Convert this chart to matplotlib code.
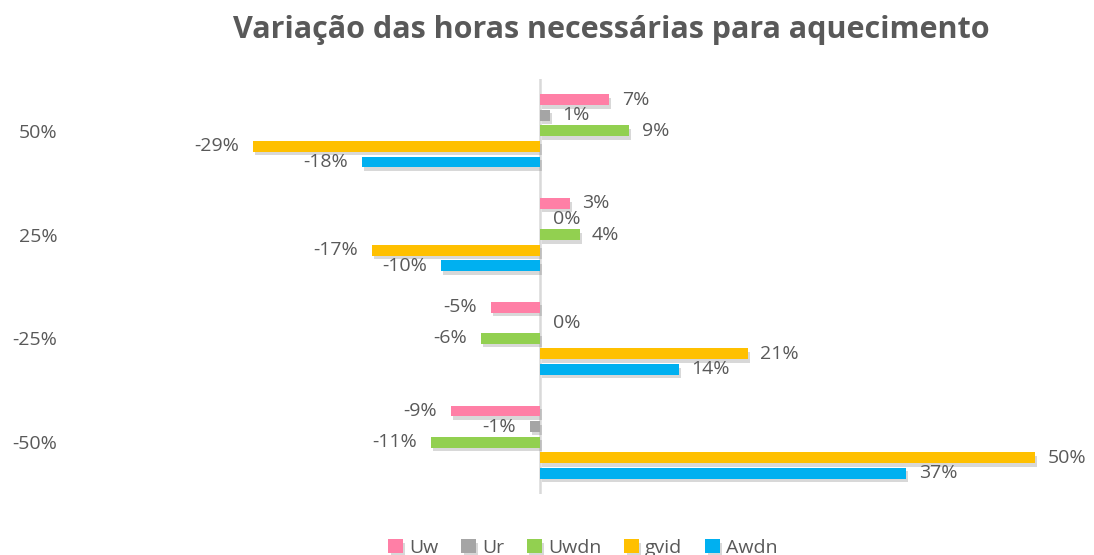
import matplotlib.pyplot as plt
import matplotlib.patheffects as pe
import numpy as np

plt.rcParams['font.family'] = ['Open Sans', 'DejaVu Sans']

categories = ['50%', '25%', '-25%', '-50%']
series = ['Uw', 'Ur', 'Uwdn', 'gvid', 'Awdn']
colors = ['#FF7FA6', '#A5A5A5', '#92D050', '#FFC000', '#00B0F0']

# variation per category, in percent (rows follow `series`)
uw = [7, 3, -5, -9]
ur = [1, 0, 0, -1]
uwdn = [9, 4, -6, -11]
gvid = [-29, -17, 21, 50]
awdn = [-18, -10, 14, 37]
values = [uw, ur, uwdn, gvid, awdn]

text_color = '#595959'
fs = 14

fig = plt.figure(figsize=(10.94, 5.55), dpi=100)
W, H = 1094, 555
left_px, right_px, top_px, bot_px, zero_px = 60, 1085, 79, 494, 540
ax = fig.add_axes([left_px / W, 1 - bot_px / H,
                   (right_px - left_px) / W, (bot_px - top_px) / H])

scale = 990.0  # pixels per 100%
ax.set_xlim(-(zero_px - left_px) / scale * 100, (right_px - zero_px) / scale * 100)
ax.set_ylim(3.5, -0.5)

y = np.arange(len(categories))
slot = 0.15
height = 0.105
shadow = [pe.SimplePatchShadow(offset=(1.5, -2.5), shadow_rgbFace='#7f7f7f', alpha=0.3),
          pe.Normal()]

for i, (name, vals, col) in enumerate(zip(series, values, colors)):
    ypos = y + (i - 2) * slot
    bars = ax.barh(ypos, vals, height=height, color=col, label=name, zorder=3)
    for b in bars:
        b.set_path_effects(shadow)
    for yy, v in zip(ypos, vals):
        if v >= 0:
            ax.annotate(f'{v}%', (v, yy), xytext=(9, 0), textcoords='offset points',
                        ha='left', va='center', fontsize=fs, color=text_color)
        else:
            ax.annotate(f'{v}%', (v, yy), xytext=(-10, 0), textcoords='offset points',
                        ha='right', va='center', fontsize=fs, color=text_color)

ax.axvline(0, color='#D9D9D9', lw=1.8, zorder=2)

ax.set_yticks(y)
ax.set_yticklabels(categories, fontsize=fs, color=text_color)
ax.tick_params(axis='y', length=0, pad=2)
ax.set_xticks([])
for s in ax.spines.values():
    s.set_visible(False)

fig.text(611 / W, 1 - 30 / H, 'Variação das horas necessárias para aquecimento',
         ha='center', va='center', fontsize=22, fontweight='bold', color=text_color)

fig.legend(loc='center', bbox_to_anchor=(583 / W, 1 - 548 / H), ncol=5, frameon=False,
           fontsize=fs, labelcolor=text_color, handlelength=0.75, handleheight=0.75,
           handletextpad=0.3, columnspacing=1.2)

fig.savefig('out.png', dpi=100)
